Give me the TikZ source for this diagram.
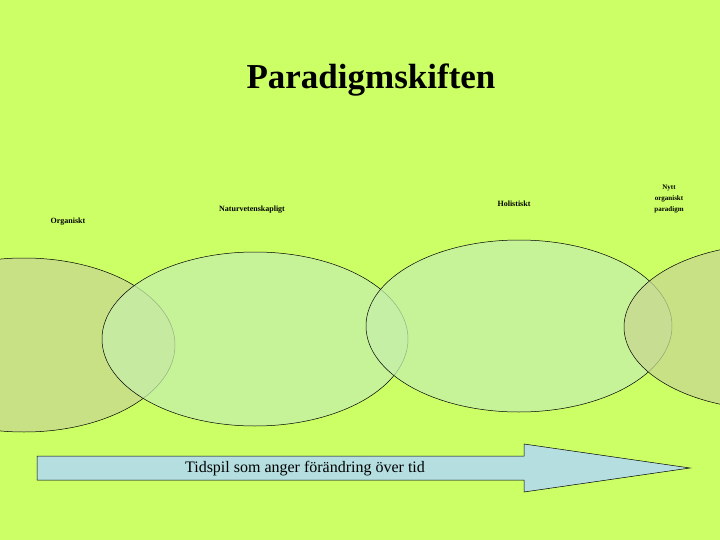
\documentclass[tikz,border=0pt]{standalone}
\usepackage{fontspec}
\setmainfont{Liberation Serif}
\begin{document}
\begin{tikzpicture}[x=1pt,y=-1pt,
  ell/.style={draw=black,line width=0.5pt,fill opacity=0.75},
  lbl/.style={font=\fontsize{8}{10}\selectfont\bfseries,align=center,inner sep=0}]
\fill[fill={rgb,255:red,204;green,255;blue,102}] (0,0) rectangle (720,540);
\useasboundingbox (0,0) rectangle (720,540);
\node[font=\fontsize{35}{40}\selectfont\bfseries] (title) at (371,80) {Paradigmskiften};
\begin{scope}
\clip (0,0) rectangle (720,540);
\path[ell,fill={rgb,255:red,200;green,216;blue,144}] (24,345) ellipse [x radius=151, y radius=87];
\path[ell,fill={rgb,255:red,196;green,238;blue,170}] (255,339) ellipse [x radius=153, y radius=87];
\path[ell,fill={rgb,255:red,196;green,238;blue,170}] (519,326) ellipse [x radius=153, y radius=86];
\path[ell,fill={rgb,255:red,200;green,216;blue,144}] (776,327) ellipse [x radius=152, y radius=83];
\end{scope}
\node[lbl] (org) at (68,222) {Organiskt};
\node[lbl] (nat) at (252,210) {Naturvetenskapligt};
\node[lbl] (hol) at (514,204) {Holistiskt};
\node[lbl,font=\fontsize{7}{11}\selectfont\bfseries] (nytt) at (669,199) {Nytt\\organiskt\\paradigm};
\draw[line width=0.5pt,fill={rgb,255:red,180;green,222;blue,224}]
  (37,456) -- (524,456) -- (524,444) -- (690,468) -- (524,492) -- (524,480) -- (37,480) -- cycle;
\node[font=\fontsize{16}{18}\selectfont] (arr) at (305,469) {Tidspil som anger förändring över tid};
\end{tikzpicture}
\end{document}
